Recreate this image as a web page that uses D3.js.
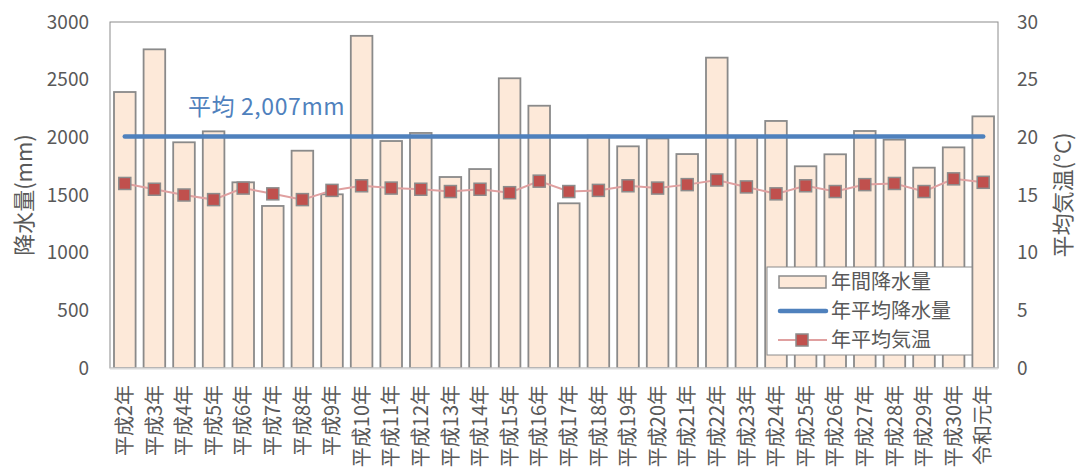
<!DOCTYPE html>
<html><head><meta charset="utf-8">
<script src="https://cdn.jsdelivr.net/npm/d3@7"></script>
<style>
body{margin:0;background:#fff;}
text{font-family:"Noto Sans CJK JP","Open Sans",sans-serif;fill:#595959;}
</style></head>
<body><svg id="c" width="1077" height="468"></svg>
<script>
const categories = ["平成2年","平成3年","平成4年","平成5年","平成6年","平成7年","平成8年","平成9年","平成10年","平成11年","平成12年","平成13年","平成14年","平成15年","平成16年","平成17年","平成18年","平成19年","平成20年","平成21年","平成22年","平成23年","平成24年","平成25年","平成26年","平成27年","平成28年","平成29年","平成30年","令和元年"];
const rainfall = [2393,2763,1957,2052,1610,1405,1884,1506,2880,1968,2038,1656,1725,2512,2274,1428,2015,1922,1990,1855,2691,2000,2142,1749,1853,2055,1980,1737,1913,2182];
const temperature = [16.0,15.5,15.0,14.6,15.6,15.1,14.6,15.4,15.8,15.6,15.5,15.3,15.5,15.2,16.2,15.3,15.4,15.8,15.6,15.9,16.3,15.7,15.1,15.8,15.3,15.9,16.0,15.3,16.4,16.1];
const avgRain = 2007;
const avgLabel = "平均 2,007mm";
const leftTicks = [0,500,1000,1500,2000,2500,3000];
const rightTicks = [0,5,10,15,20,25,30];
const seriesNames = ["年間降水量","年平均降水量","年平均気温"];
const leftTitle = "降水量(mm)";
const rightTitle = "平均気温(°C)";

const svg = d3.select("#c");
const L=110, R=998, T=22, B=368;
const x = d3.scaleBand().domain(categories).range([L,R]).paddingInner(0.27).paddingOuter(0.135);
const yL = d3.scaleLinear().domain([0,3000]).range([B,T]);
const yR = d3.scaleLinear().domain([0,30]).range([B,T]);
const cx = d => x(d)+x.bandwidth()/2;

// plot border
svg.append("rect").attr("x",L).attr("y",T).attr("width",R-L).attr("height",B-T)
  .attr("fill","none").attr("stroke","#8c8c8c").attr("stroke-width",1);

// bars
svg.append("g").selectAll("rect").data(categories).join("rect")
  .attr("x",d=>x(d)).attr("width",x.bandwidth())
  .attr("y",(d,i)=>yL(rainfall[i])).attr("height",(d,i)=>B-yL(rainfall[i]))
  .attr("fill","#fde9d9").attr("stroke","#8a8a8a").attr("stroke-width",1.8);

// bottom axis line
svg.append("line").attr("x1",L).attr("x2",R).attr("y1",B+0.5).attr("y2",B+0.5)
  .attr("stroke","#d9d9d9").attr("stroke-width",2);

// average line
svg.append("line").attr("x1",cx(categories[0])).attr("x2",cx(categories[categories.length-1]))
  .attr("y1",yL(avgRain)).attr("y2",yL(avgRain))
  .attr("stroke","#4f81bd").attr("stroke-width",4.5).attr("stroke-linecap","round");
svg.append("text").attr("x",188).attr("y",115).text(avgLabel)
  .style("fill","#4f81bd").style("font-size","23px").style("letter-spacing","0.6px");

// temperature line
const line = d3.line().x((d,i)=>cx(categories[i])).y(d=>yR(d));
svg.append("path").attr("d",line(temperature)).attr("fill","none")
  .attr("stroke","#e0a0a0").attr("stroke-width",2);
svg.append("g").selectAll("rect").data(temperature).join("rect")
  .attr("x",(d,i)=>cx(categories[i])-6).attr("y",d=>yR(d)-6)
  .attr("width",12).attr("height",12)
  .attr("fill","#c0504d").attr("stroke","#8c8c8c").attr("stroke-width",1.5);

// axes
const axL = d3.axisLeft(yL).tickValues(leftTicks).tickFormat(d3.format("d")).tickSize(0).tickPadding(21);
const gL = svg.append("g").attr("transform",`translate(${L},0)`).call(axL);
gL.select(".domain").remove();
gL.selectAll("text").style("font-size","19px").style("fill","#595959").attr("font-family",null);

const axR = d3.axisRight(yR).tickValues(rightTicks).tickFormat(d3.format("d")).tickSize(0).tickPadding(19);
const gR = svg.append("g").attr("transform",`translate(${R},0)`).call(axR);
gR.select(".domain").remove();
gR.selectAll("text").style("font-size","19px").style("fill","#595959").attr("font-family",null);

// x labels
svg.append("g").selectAll("text").data(categories).join("text")
  .attr("transform",d=>`translate(${cx(d)},385) rotate(-90)`)
  .attr("text-anchor","end").attr("dy","0.36em")
  .style("font-size","20px").text(d=>d);

// axis titles
svg.append("text").attr("transform",`translate(24,195) rotate(-90)`)
  .attr("text-anchor","middle").attr("dy","0.36em").style("font-size","22px").text(leftTitle);
svg.append("text").attr("transform",`translate(1063,195) rotate(-90)`)
  .attr("text-anchor","middle").attr("dy","0.36em").style("font-size","22px").text(rightTitle);

// legend
const lg = svg.append("g");
lg.append("rect").attr("x",767).attr("y",267).attr("width",205).attr("height",88)
  .attr("fill","#fff").attr("stroke","#8c8c8c").attr("stroke-width",1);
const ly = [282,311,340];
lg.append("rect").attr("x",779).attr("y",ly[0]-6).attr("width",47).attr("height",12)
  .attr("fill","#fde9d9").attr("stroke","#8a8a8a").attr("stroke-width",1.5);
lg.append("line").attr("x1",780).attr("x2",826).attr("y1",ly[1]).attr("y2",ly[1])
  .attr("stroke","#4f81bd").attr("stroke-width",4.5).attr("stroke-linecap","round");
lg.append("line").attr("x1",778).attr("x2",827).attr("y1",ly[2]).attr("y2",ly[2])
  .attr("stroke","#e0a0a0").attr("stroke-width",2);
lg.append("rect").attr("x",796).attr("y",ly[2]-6).attr("width",12).attr("height",12)
  .attr("fill","#c0504d").attr("stroke","#8c8c8c").attr("stroke-width",1.5);
lg.selectAll("text.l").data(seriesNames).join("text").attr("class","l")
  .attr("x",831).attr("y",(d,i)=>ly[i]).attr("dy","0.36em")
  .style("font-size","20px").text(d=>d);
</script></body></html>
